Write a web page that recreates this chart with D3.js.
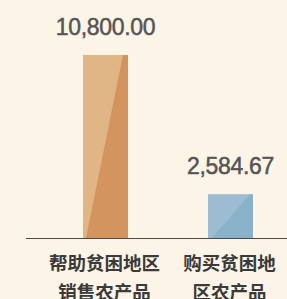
<!DOCTYPE html>
<html>
<head>
<meta charset="utf-8">
<script src="https://cdn.jsdelivr.net/npm/d3@7"></script>
<style>
  html, body { margin: 0; padding: 0; background: #fcf4e7; }
  svg { display: block; }
</style>
</head>
<body>
<svg id="chart" width="287" height="299"></svg>
<script>
/* chart data */
let categories = ['help', 'buy'];
let labelLines = [['帮助贫困地区', '销售农产品'], ['购买贫困地', '区农产品']];
let values = [10800.00, 2584.67];

let colors = {
    help: { light: '#e0b687', dark: '#d3945d' },
    buy: { light: '#9cbdd1', dark: '#89b2c9' }
};

let width = 287, height = 299;
let base = 238;

let svg = d3.select('#chart');

/* Band scale for the two bars */
let x = d3.scaleBand()
    .domain(categories)
    .range([43, 293])
    .paddingInner(0.64)
    .paddingOuter(0.32);

/* Linear scale for bar heights */
let y = d3.scaleLinear()
    .domain([0, d3.max(values)])
    .range([base, 55]);

let fmt = d3.format(',.2f');

let bars = svg.selectAll('.bar')
    .data(categories)
    .enter()
    .append('g')
    .attr('class', 'bar');

/* Lighter base of each bar */
bars.append('rect')
    .attr('x', d => x(d))
    .attr('y', (d, i) => y(values[i]))
    .attr('width', x.bandwidth())
    .attr('height', (d, i) => base - y(values[i]))
    .attr('fill', d => colors[d].light);

/* Darker diagonal facet */
bars.append('path')
    .attr('d', (d, i) => {
        let x0 = x(d), x1 = x(d) + x.bandwidth(), top = y(values[i]);
        if (d === 'help') {
            return `M${x1 - 5},${top}L${x1},${top}L${x1},${base}L${x0 + 3},${base}Z`;
        }
        return `M${x1 - 3},${top}L${x1},${top}L${x1},${base}L${x0 + 4},${base}Z`;
    })
    .attr('fill', d => colors[d].dark);

/* Value labels */
bars.append('text')
    .attr('x', d => x(d) + x.bandwidth() / 2)
    .attr('y', (d, i) => y(values[i]) - 20)
    .attr('text-anchor', 'middle')
    .attr('font-family', '"Liberation Sans", Arial, sans-serif')
    .attr('font-size', 23)
    .attr('fill', '#555')
    .attr('stroke', '#555')
    .attr('stroke-width', 0.5)
    .attr('letter-spacing', -0.3)
    .text((d, i) => fmt(values[i]));

/* Baseline */
svg.append('line')
    .attr('x1', 26)
    .attr('x2', width)
    .attr('y1', base + 0.5)
    .attr('y2', base + 0.5)
    .attr('stroke', '#4a4a4a')
    .attr('stroke-width', 1.2);

/* Category labels, two lines each */
let cats = svg.selectAll('.cat')
    .data(categories)
    .enter()
    .append('text')
    .attr('class', 'cat')
    .attr('text-anchor', 'middle')
    .attr('font-family', '"Noto Sans CJK SC", sans-serif')
    .attr('font-weight', 'bold')
    .attr('font-size', 18.5)
    .attr('fill', '#3a3a3a');

cats.selectAll('tspan')
    .data((d, i) => labelLines[i].map(t => ({ t: t, c: d })))
    .enter()
    .append('tspan')
    .attr('x', d => x(d.c) + x.bandwidth() / 2 - 1)
    .attr('y', (d, j) => 270 + j * 29)
    .text(d => d.t);
</script>
</body>
</html>
